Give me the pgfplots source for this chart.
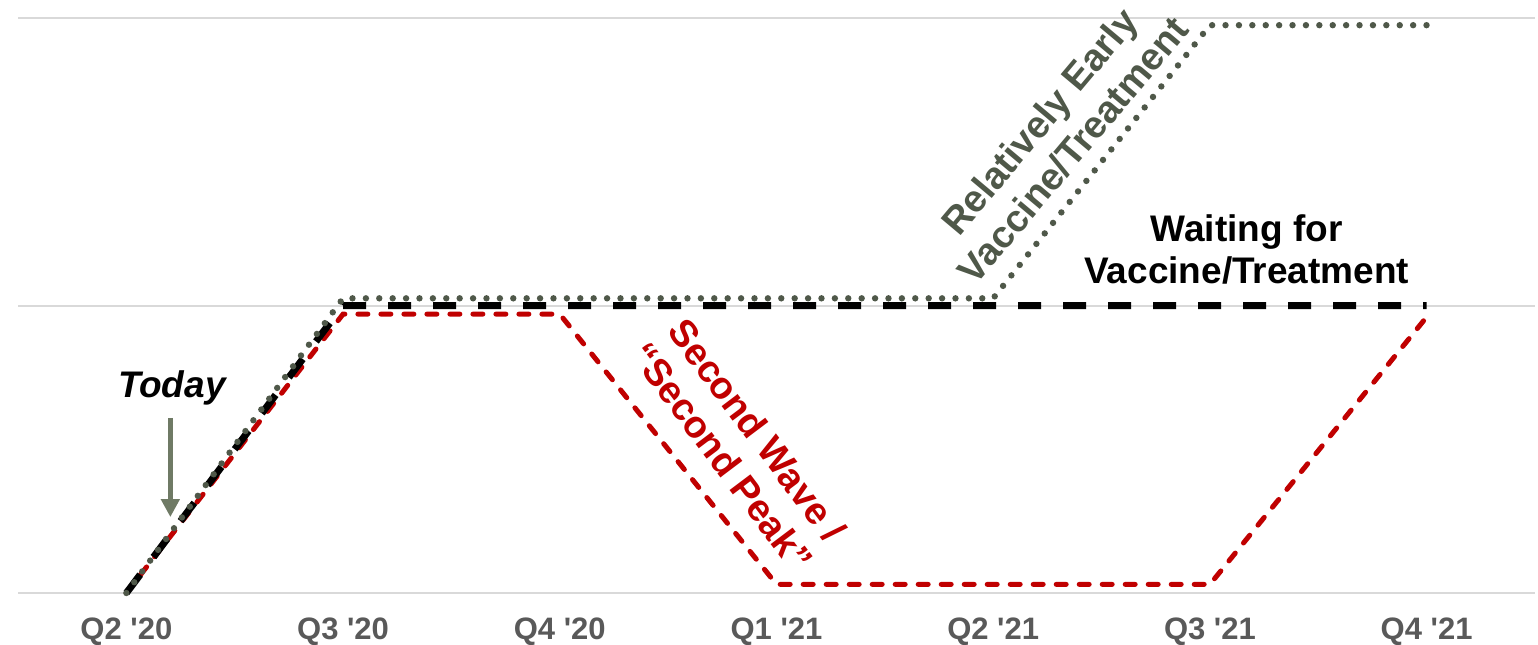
\documentclass[border=0pt]{standalone}
\usepackage{pgfplots}
\pgfplotsset{compat=1.18}
\usepackage{fontspec}
\setmainfont{Liberation Sans}
\usetikzlibrary{arrows.meta}
\definecolor{redd}{HTML}{C00000}
\definecolor{dotg}{HTML}{4F5849}
\definecolor{arrg}{HTML}{6F7A65}
\definecolor{tickg}{HTML}{595959}
\definecolor{gridg}{HTML}{D9D9D9}
\begin{document}
\begin{tikzpicture}
\begin{axis}[
  at={(0,0)}, anchor=south west,
  width=758.5pt, height=287.5pt, scale only axis,
  xmin=-0.5, xmax=6.5, ymin=0, ymax=2,
  clip=false,
  axis line style={draw=none},
  xtick={0,1,2,3,4,5,6},
  xticklabels={Q2 \textquotesingle20,Q3 \textquotesingle20,Q4 \textquotesingle20,Q1 \textquotesingle21,Q2 \textquotesingle21,Q3 \textquotesingle21,Q4 \textquotesingle21},
  xticklabel style={font=\fontsize{15.5}{18}\selectfont\bfseries, text=tickg, yshift=-9pt},
  ytick={0,1,2}, yticklabels={},
  ymajorgrids, grid style={gridg, line width=1pt},
  major tick length=0pt,
  tick style={draw=none},
]
\addplot[redd, line width=2.5pt, line cap=round, dash pattern=on 5pt off 6.5pt] coordinates {(0,0) (1,0.97) (2,0.97) (3,0.03) (5,0.03) (6,0.96)};
\addplot[black, line width=3.5pt, dash pattern=on 11.5pt off 11pt] coordinates {(0,0) (1,1) (6,1)};
\addplot[dotg, line width=3.2pt, line cap=round, dash pattern=on 0pt off 6.7pt] coordinates {(0,0) (1,1.025) (4,1.025) (5,1.975) (6,1.975)};

\node[font=\fontsize{18.5}{22}\selectfont\bfseries\itshape] at (axis cs:0.21,0.713) {Today};
\draw[arrg, line width=2.5pt, -{Triangle[width=9pt,length=9pt]}] (axis cs:0.203,0.609) -- (axis cs:0.203,0.264);
\node[font=\fontsize{18.5}{21}\selectfont\bfseries, align=center] at (axis cs:5.17,1.195) {Waiting for\\Vaccine/Treatment};
\node[font=\fontsize{19}{22}\selectfont\bfseries, align=center, text=dotg, rotate=50] at (axis cs:4.29,1.59) {Relatively Early\\Vaccine/Treatment};
\node[font=\fontsize{19}{22}\selectfont\bfseries, align=center, text=redd, rotate=-53] at (axis cs:2.83,0.52) {Second Wave /\\“Second Peak”};
\end{axis}
\pgfresetboundingbox
\path[use as bounding box] (-9pt,-25.5pt) rectangle (760pt,296.5pt);
\end{tikzpicture}
\end{document}
